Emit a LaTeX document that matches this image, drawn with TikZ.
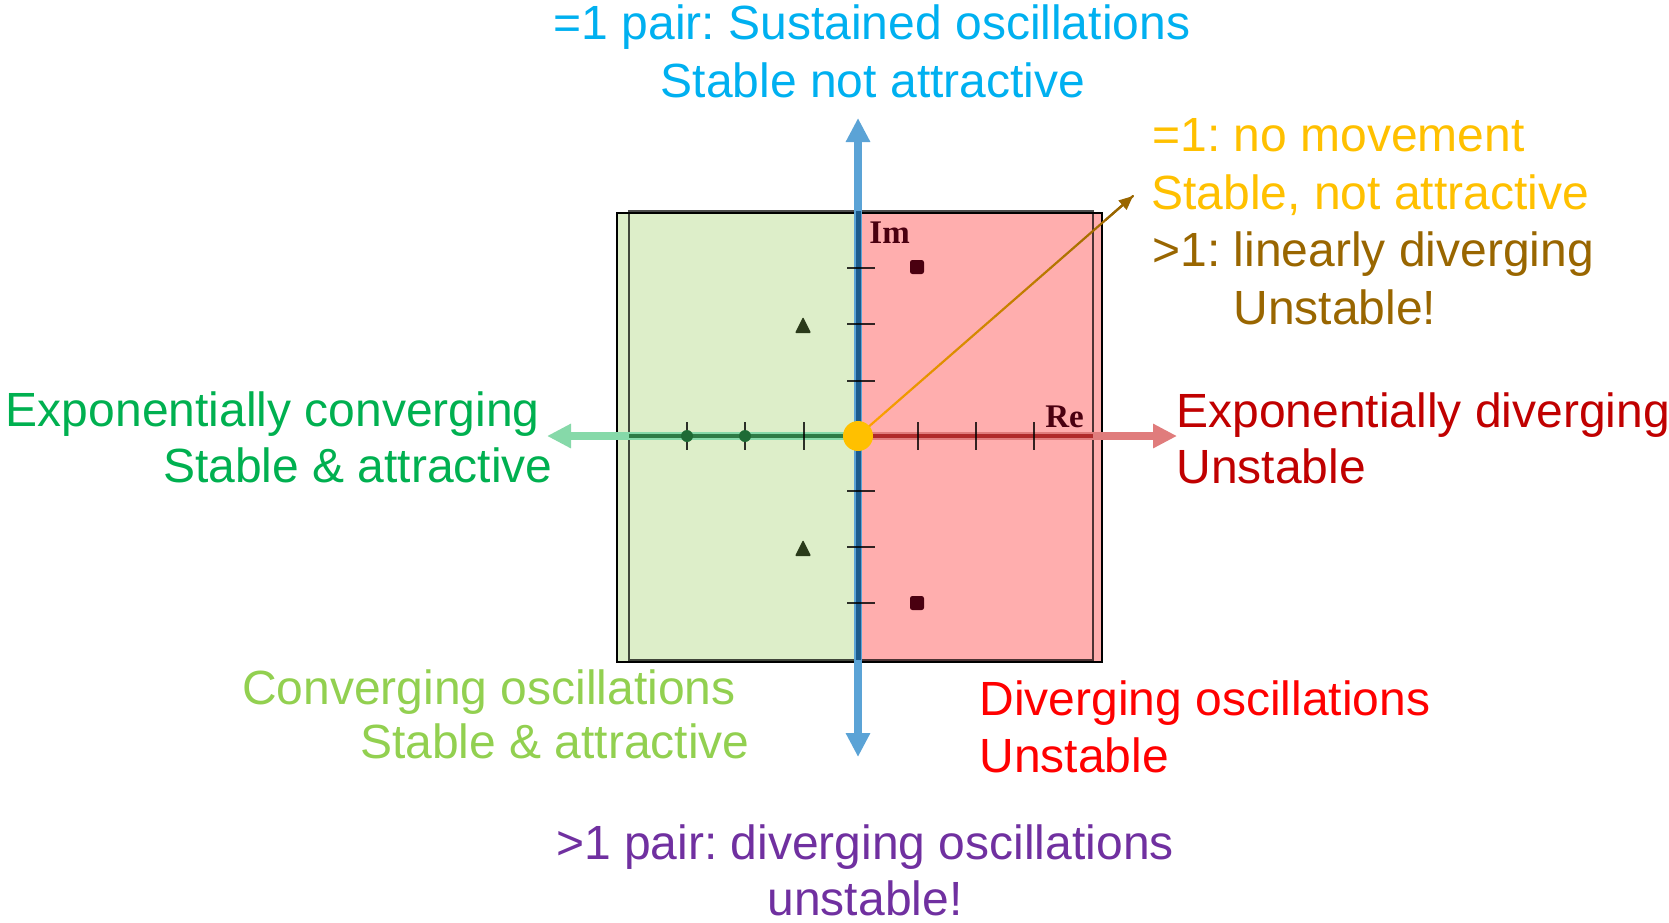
\documentclass[tikz,border=0pt]{standalone}
\usepackage{fontspec}
\setmainfont{Liberation Sans}
\newfontfamily\serifbold{Liberation Serif}
\usetikzlibrary{arrows.meta,calc}
\frenchspacing
\definecolor{cyanT}{HTML}{00B0F0}
\definecolor{yellowT}{HTML}{FFC000}
\definecolor{brownT}{HTML}{996600}
\definecolor{orangeL}{HTML}{FFA200}
\definecolor{greenT}{HTML}{00B050}
\definecolor{dredT}{HTML}{C00000}
\definecolor{lgreenT}{HTML}{92D050}
\definecolor{redT}{HTML}{FF0000}
\definecolor{purpleT}{HTML}{7030A0}
\definecolor{greenfill}{HTML}{DDEEC9}
\definecolor{pinkfill}{HTML}{FFAEAE}
\definecolor{ltblue}{HTML}{5BA3D6}
\definecolor{dkblue}{HTML}{1C5B8C}
\definecolor{ltgreen}{HTML}{86D9A9}
\definecolor{dkgreen}{HTML}{2E7B46}
\definecolor{ltred}{HTML}{E07C7C}
\definecolor{dkred}{HTML}{B02A2A}
\definecolor{dotgreen}{HTML}{1E6B35}
\definecolor{trigreen}{HTML}{2A3A1A}
\definecolor{sqred}{HTML}{4A0010}
\tikzset{bigtip/.tip={Triangle[length=12pt,width=11.5pt]}}
\begin{document}
\frenchspacing
\begin{tikzpicture}[x=0.5pt,y=-0.5pt,
  lbl/.style={inner sep=0pt, font=\fontsize{24}{29}\selectfont\frenchspacing},
  axlbl/.style={inner sep=0pt, text=sqred, font=\serifbold\bfseries\fontsize{16.5}{19}\selectfont},
  tickmark/.style={draw=black, draw opacity=0.8, line width=1pt},
  ]
\useasboundingbox (0,0) rectangle (1669,922);
% coordinates
\coordinate (O) at (858,436);
\coordinate (ImTop) at (858,118);
\coordinate (ImBot) at (858,757);
\coordinate (ReL) at (547,436);
\coordinate (ReR) at (1177,436);
\coordinate (Tip) at (1133,196);
% plane
\fill[greenfill] (617,213) rectangle (858,662);
\fill[pinkfill] (858,213) rectangle (1102,662);
\draw[black, draw opacity=0.7, line width=0.75pt] (629,211) rectangle (1093,660);
\draw[black, line width=1.25pt] (617,213) rectangle (1102,662);
% real axis
\draw[ltgreen, line width=3.75pt, -{bigtip}] (O) -- (ReL);
\draw[ltred, line width=3.75pt, -{bigtip}] (O) -- (ReR);
\draw[dkgreen, line width=2pt] (629,436) -- (O);
\draw[dkred, line width=2pt] (O) -- (1093,436);
\foreach \x in {687,745,804,918,976,1034} \draw[tickmark] (\x,422) -- (\x,450);
% imaginary axis
\draw[ltblue, line width=4pt, {bigtip}-{bigtip}] (ImBot) -- (ImTop);
\draw[dkblue, line width=2.5pt] (858,211) -- (858,660);
\foreach \y in {268,324,381,491,547,603} \draw[tickmark] (847,\y) -- (875,\y);
% poles
\fill[dotgreen] (687,436) circle (6);
\fill[dotgreen] (745,436) circle (6);
\fill[trigreen, rounded corners=0.5pt] (795,333) -- (811,333) -- (803,317) -- cycle;
\fill[trigreen, rounded corners=0.5pt] (795,556) -- (811,556) -- (803,540) -- cycle;
\fill[sqred, rounded corners=1.2pt] (910,260) rectangle (924,274);
\fill[sqred, rounded corners=1.2pt] (910,596) rectangle (924,610);
\node[axlbl, anchor=base west] (im) at (869,243) {Im};
\node[axlbl, anchor=base west] (re) at (1045,427) {Re};
% origin marker and diagonal arrow
\foreach \i in {0,...,19} {
  \pgfmathsetmacro\a{\i/20}
  \pgfmathsetmacro\b{(\i+1)/20}
  \pgfmathsetmacro\p{100*\i/19}
  \draw[line width=1.1pt, line cap=round, color=brownT!\p!orangeL] ($(O)!\a!(Tip)$) -- ($(O)!\b!(Tip)$);
}
\draw[brownT, line width=1.1pt, -{Triangle[length=7pt,width=6pt]}] ($(O)!0.9!(Tip)$) -- (Tip);
\node[circle, fill=yellowT, minimum size=15pt, inner sep=0pt] (orig) at (O) {};
% texts
\node[lbl, text=cyanT, anchor=base] (t1) at (872,39.5) {=1 pair: Sustained oscillations};
\node[lbl, text=cyanT, anchor=base] (t2) at (873,97.5) {Stable not attractive};
\node[lbl, text=yellowT, anchor=base west] (r1) at (1152,151.5) {=1: no movement};
\node[lbl, text=yellowT, anchor=base west] (r2) at (1151,209) {Stable, not attractive};
\node[lbl, text=brownT, anchor=base west] (r3) at (1152,266) {>1: linearly diverging};
\node[lbl, text=brownT, anchor=base west] (r4) at (1233,324) {Unstable!};
\node[lbl, text=greenT, anchor=base east] (l1) at (540,426) {Exponentially converging};
\node[lbl, text=greenT, anchor=base east] (l2) at (553,482) {Stable \& attractive};
\node[lbl, text=dredT, anchor=base west] (e1) at (1176,427) {Exponentially diverging};
\node[lbl, text=dredT, anchor=base west] (e2) at (1176,483) {Unstable};
\node[lbl, text=lgreenT, anchor=base east] (c1) at (736,704) {Converging oscillations};
\node[lbl, text=lgreenT, anchor=base east] (c2) at (750,758) {Stable \& attractive};
\node[lbl, text=redT, anchor=base west] (d1) at (979,715) {Diverging oscillations};
\node[lbl, text=redT, anchor=base west] (d2) at (979,772) {Unstable};
\node[lbl, text=purpleT, anchor=base] (p1) at (865,859) {>1 pair: diverging oscillations};
\node[lbl, text=purpleT, anchor=base] (p2) at (865,915) {unstable!};
\end{tikzpicture}
\end{document}
